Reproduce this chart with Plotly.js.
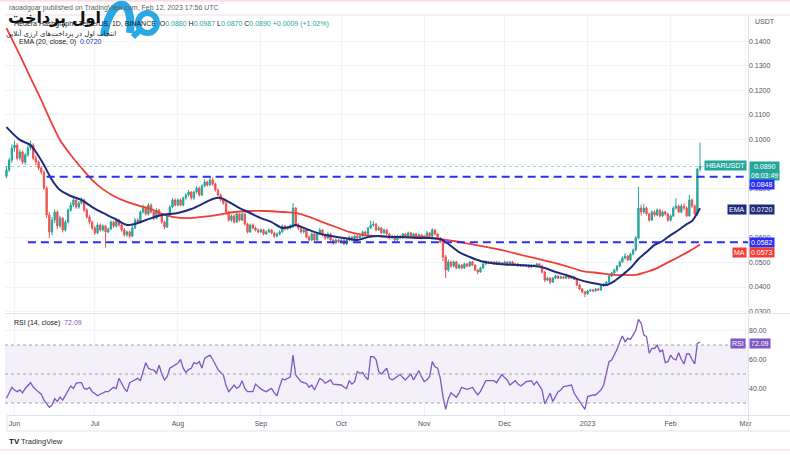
<!DOCTYPE html>
<html><head><meta charset="utf-8">
<script src="https://cdn.plot.ly/plotly-3.0.1.min.js"></script>
<style>html,body{margin:0;padding:0;background:#fff;}#chart{width:790px;height:455px;}</style>
</head><body><div id="chart"></div>
<script>
// ---------- DATA ----------
const startDate = '2022-05-29';            // first daily candle
const firstOpen = 0.0850;
const closes = [
0.0876,0.0916,0.0965,0.0977,0.0924,0.0949,0.0908,0.0937,0.0965,0.0977,
0.0924,0.0908,0.0884,0.0867,0.0802,0.0693,0.0624,0.0672,0.0705,0.0648,
0.0680,0.0632,0.0664,0.0713,0.0733,0.0754,0.0725,0.0741,0.0754,0.0713,
0.0685,0.0664,0.0640,0.0620,0.0652,0.0632,0.0648,0.0624,0.0636,0.0664,
0.0648,0.0672,0.0652,0.0632,0.0612,0.0624,0.0607,0.0640,0.0672,0.0664,
0.0705,0.0721,0.0697,0.0733,0.0705,0.0680,0.0713,0.0693,0.0664,0.0644,
0.0693,0.0725,0.0754,0.0733,0.0754,0.0733,0.0762,0.0774,0.0786,0.0762,
0.0786,0.0802,0.0774,0.0811,0.0827,0.0815,0.0835,0.0819,0.0794,0.0774,
0.0754,0.0741,0.0705,0.0672,0.0689,0.0664,0.0697,0.0672,0.0697,0.0656,
0.0624,0.0652,0.0640,0.0632,0.0624,0.0632,0.0616,0.0624,0.0632,0.0620,
0.0607,0.0616,0.0624,0.0648,0.0636,0.0640,0.0648,0.0721,0.0652,0.0640,
0.0624,0.0632,0.0603,0.0591,0.0616,0.0591,0.0616,0.0632,0.0612,0.0599,
0.0616,0.0591,0.0579,0.0591,0.0583,0.0591,0.0575,0.0591,0.0603,0.0591,
0.0607,0.0599,0.0607,0.0624,0.0616,0.0640,0.0652,0.0656,0.0632,0.0640,
0.0620,0.0632,0.0616,0.0599,0.0607,0.0591,0.0607,0.0599,0.0616,0.0607,
0.0620,0.0607,0.0616,0.0603,0.0612,0.0599,0.0607,0.0620,0.0607,0.0632,
0.0616,0.0599,0.0583,0.0522,0.0469,0.0502,0.0485,0.0502,0.0477,0.0489,
0.0477,0.0494,0.0485,0.0502,0.0489,0.0469,0.0461,0.0477,0.0494,0.0502,
0.0498,0.0502,0.0494,0.0502,0.0498,0.0494,0.0502,0.0494,0.0502,0.0489,
0.0494,0.0485,0.0489,0.0485,0.0489,0.0481,0.0489,0.0485,0.0494,0.0485,
0.0461,0.0428,0.0436,0.0420,0.0436,0.0445,0.0436,0.0441,0.0436,0.0445,
0.0436,0.0441,0.0432,0.0408,0.0392,0.0380,0.0372,0.0384,0.0388,0.0384,
0.0392,0.0388,0.0404,0.0412,0.0420,0.0445,0.0457,0.0469,0.0485,0.0502,
0.0518,0.0526,0.0510,0.0534,0.0550,0.0599,0.0721,0.0705,0.0721,0.0697,
0.0672,0.0705,0.0693,0.0713,0.0689,0.0705,0.0697,0.0672,0.0689,0.0721,
0.0729,0.0705,0.0729,0.0721,0.0689,0.0754,0.0729,0.0697,0.0880,0.0890];
const highs = [
0.0890,0.0925,0.0980,0.0995,0.0985,0.0960,0.0955,0.0945,0.0975,0.0995,
0.0985,0.0935,0.0915,0.0892,0.0875,0.0810,0.0705,0.0685,0.0715,0.0712,
0.0690,0.0685,0.0672,0.0720,0.0745,0.0772,0.0760,0.0750,0.0765,0.0760,
0.0720,0.0692,0.0670,0.0648,0.0660,0.0658,0.0655,0.0652,0.0642,0.0670,
0.0670,0.0680,0.0678,0.0658,0.0640,0.0630,0.0630,0.0648,0.0680,0.0680,
0.0712,0.0735,0.0728,0.0742,0.0740,0.0712,0.0720,0.0718,0.0698,0.0670,
0.0700,0.0732,0.0762,0.0760,0.0760,0.0760,0.0768,0.0782,0.0795,0.0790,
0.0792,0.0810,0.0808,0.0818,0.0838,0.0832,0.0850,0.0845,0.0825,0.0800,
0.0780,0.0760,0.0748,0.0710,0.0695,0.0695,0.0703,0.0700,0.0703,0.0702,
0.0662,0.0658,0.0658,0.0646,0.0638,0.0638,0.0636,0.0630,0.0638,0.0636,
0.0625,0.0622,0.0630,0.0654,0.0652,0.0646,0.0655,0.0741,0.0725,0.0660,
0.0645,0.0640,0.0638,0.0610,0.0622,0.0620,0.0622,0.0640,0.0636,0.0618,
0.0622,0.0620,0.0596,0.0598,0.0596,0.0597,0.0596,0.0597,0.0610,0.0608,
0.0612,0.0612,0.0612,0.0630,0.0628,0.0645,0.0670,0.0668,0.0660,0.0648,
0.0645,0.0638,0.0636,0.0620,0.0612,0.0610,0.0612,0.0610,0.0620,0.0620,
0.0626,0.0624,0.0620,0.0620,0.0618,0.0616,0.0612,0.0628,0.0624,0.0640,
0.0636,0.0620,0.0604,0.0590,0.0530,0.0512,0.0508,0.0508,0.0506,0.0495,
0.0494,0.0498,0.0497,0.0506,0.0506,0.0492,0.0472,0.0482,0.0498,0.0508,
0.0506,0.0506,0.0505,0.0506,0.0505,0.0502,0.0507,0.0505,0.0506,0.0505,
0.0497,0.0497,0.0493,0.0492,0.0493,0.0492,0.0493,0.0492,0.0498,0.0497,
0.0490,0.0466,0.0442,0.0440,0.0440,0.0450,0.0448,0.0446,0.0446,0.0448,
0.0448,0.0445,0.0445,0.0435,0.0412,0.0396,0.0384,0.0388,0.0392,0.0392,
0.0396,0.0395,0.0408,0.0416,0.0425,0.0450,0.0462,0.0475,0.0490,0.0508,
0.0525,0.0538,0.0530,0.0540,0.0556,0.0608,0.0807,0.0735,0.0738,0.0728,
0.0702,0.0712,0.0712,0.0720,0.0718,0.0712,0.0710,0.0702,0.0695,0.0728,
0.0761,0.0735,0.0738,0.0740,0.0728,0.0775,0.0760,0.0735,0.0885,0.0987];
const lows = [
0.0842,0.0868,0.0905,0.0950,0.0915,0.0915,0.0900,0.0898,0.0930,0.0955,
0.0915,0.0895,0.0875,0.0858,0.0795,0.0680,0.0600,0.0610,0.0660,0.0635,
0.0640,0.0622,0.0625,0.0658,0.0705,0.0725,0.0718,0.0718,0.0735,0.0705,
0.0678,0.0655,0.0632,0.0612,0.0615,0.0625,0.0625,0.0560,0.0618,0.0630,
0.0640,0.0642,0.0645,0.0625,0.0605,0.0605,0.0598,0.0602,0.0635,0.0655,
0.0658,0.0698,0.0690,0.0690,0.0700,0.0672,0.0675,0.0688,0.0658,0.0635,
0.0640,0.0688,0.0720,0.0728,0.0728,0.0728,0.0728,0.0755,0.0768,0.0755,
0.0755,0.0780,0.0768,0.0770,0.0805,0.0808,0.0810,0.0812,0.0788,0.0768,
0.0748,0.0735,0.0698,0.0665,0.0665,0.0658,0.0660,0.0666,0.0668,0.0650,
0.0618,0.0620,0.0635,0.0626,0.0618,0.0620,0.0610,0.0612,0.0620,0.0615,
0.0600,0.0602,0.0610,0.0620,0.0630,0.0632,0.0635,0.0640,0.0645,0.0632,
0.0618,0.0618,0.0598,0.0585,0.0586,0.0585,0.0586,0.0610,0.0605,0.0592,
0.0594,0.0586,0.0572,0.0574,0.0578,0.0579,0.0570,0.0570,0.0586,0.0586,
0.0586,0.0594,0.0595,0.0602,0.0610,0.0612,0.0635,0.0645,0.0626,0.0628,
0.0615,0.0615,0.0610,0.0594,0.0595,0.0586,0.0588,0.0594,0.0595,0.0602,
0.0602,0.0602,0.0602,0.0598,0.0600,0.0594,0.0595,0.0603,0.0602,0.0603,
0.0610,0.0594,0.0578,0.0505,0.0437,0.0462,0.0478,0.0480,0.0472,0.0472,
0.0472,0.0474,0.0480,0.0482,0.0485,0.0465,0.0452,0.0458,0.0474,0.0490,
0.0494,0.0495,0.0490,0.0491,0.0494,0.0490,0.0492,0.0490,0.0492,0.0486,
0.0486,0.0482,0.0482,0.0482,0.0482,0.0478,0.0478,0.0481,0.0482,0.0481,
0.0455,0.0420,0.0424,0.0412,0.0416,0.0432,0.0432,0.0433,0.0432,0.0433,
0.0432,0.0432,0.0428,0.0404,0.0388,0.0375,0.0359,0.0368,0.0380,0.0380,
0.0381,0.0384,0.0385,0.0400,0.0408,0.0416,0.0440,0.0452,0.0462,0.0480,
0.0498,0.0512,0.0505,0.0505,0.0528,0.0545,0.0595,0.0690,0.0698,0.0690,
0.0665,0.0668,0.0686,0.0688,0.0683,0.0684,0.0690,0.0665,0.0666,0.0684,
0.0715,0.0700,0.0700,0.0712,0.0684,0.0686,0.0722,0.0692,0.0690,0.0870];
const rsi = [
33.2,37,40.8,39,37.8,39,37,40,42,44,
41,39,37.5,36,32,29.5,27,28.6,33,31,
34,32,35.5,39,41.7,40,43.6,44,44,40,
39.5,40.8,37.8,36.5,35,36,36.7,37.8,37.8,39.5,
40.8,40,47,43.6,40,37.8,44,45,46,47,
45.4,52,57.8,54,53,52.8,50.5,56,50,45.9,
48.2,54,55,56.5,57.4,60,54,51,53,54,
57.8,57,58.5,54,60.8,62,63,60,57,53,
51,49.3,42,37.8,40,42.4,40,41.3,45.4,40,
37.8,38,37.8,43,41,39.7,38.5,37.8,39,40,
37,35,41.3,46.6,46,47,48,63,49.3,47,
44.7,44,43.6,40.8,42.4,39,43,47,45.9,43.6,
44.7,45.9,43,42.8,42.6,42.4,41,40,45.4,43,
44.7,51.6,50.5,51,48,46,62,62,60,51.6,
50,52,54,47,46,47,48.6,49.8,47.5,45.9,
48,50,45.9,49,52.3,48,44.7,46,48.2,58.5,
55,54,47,34.4,25.6,33,37,35.5,34,37,
40.8,40,39.4,40,40.8,38,35.5,38,42,45.4,
45.4,45.4,45.4,44,47,49.8,47.5,45.9,42.4,44,
45.4,43,41.7,43,44.7,45,45.4,42.4,44.7,42,
39,29.3,33,36.7,31,35,37.8,39,41.3,41.6,
42,42.4,36.7,34,31.6,28.5,25.6,34.4,35,35.5,
35.5,37,39,42.4,50,58.5,59.7,63,67,72,
76.2,72.3,74.6,73.9,76.9,80,87.7,85,77,75.7,
64.3,67.7,67.7,70,65.4,66.5,57.8,58.5,63,60.5,
59.7,64.7,60,56.9,63.8,63.8,60,57,71.1,72.09];
// EMA(20) and MA(50) at these candle indexes
const emaIdx  = [0,5,9,11,14,17,20,24,28,32,36,40,45,49,53,58,64,69,73,77,80,83,87,91,95,99,103,106,108,112,116,121,126,131,135,139,143,148,153,158,162,165,169,173,177,181,185,191,197,201,205,209,213,217,221,224,227,230,233,236,239,242,245,248,251,254,256,257,258,259];
const emaVals = [0.1050,0.0998,0.0977,0.0949,0.0896,0.0835,0.0794,0.0770,0.0754,0.0725,0.0701,0.0680,0.0652,0.0660,0.0676,0.0693,0.0701,0.0717,0.0737,0.0758,0.0762,0.0746,0.0721,0.0701,0.0680,0.0664,0.0640,0.0645,0.0652,0.0636,0.0620,0.0607,0.0599,0.0591,0.0603,0.0607,0.0603,0.0603,0.0599,0.0599,0.0595,0.0575,0.0542,0.0522,0.0506,0.0498,0.0493,0.0489,0.0485,0.0477,0.0461,0.0449,0.0433,0.0420,0.0412,0.0408,0.0424,0.0449,0.0477,0.0514,0.0542,0.0571,0.0587,0.0611,0.0632,0.0656,0.0668,0.0683,0.0702,0.0720];
const maIdx  = [0,5,9,13,16,20,24,28,32,36,40,45,50,54,58,62,68,73,79,85,91,97,103,108,113,118,123,128,133,139,145,151,157,162,167,173,179,185,191,197,203,209,215,221,227,231,235,239,243,247,251,255,259];
const maVals = [0.1453,0.1343,0.1250,0.1160,0.1087,0.0998,0.0937,0.0884,0.0835,0.0798,0.0770,0.0746,0.0729,0.0717,0.0697,0.0685,0.0680,0.0685,0.0693,0.0705,0.0709,0.0709,0.0705,0.0701,0.0685,0.0664,0.0644,0.0624,0.0612,0.0607,0.0603,0.0603,0.0603,0.0595,0.0587,0.0575,0.0563,0.0550,0.0534,0.0518,0.0502,0.0485,0.0465,0.0457,0.0449,0.0449,0.0449,0.0461,0.0477,0.0500,0.0522,0.0546,0.0573];
const levels = [0.0848, 0.0582];
const levelStartIdx = [15, 8];
const lastPrice = 0.0890;
const monthTicks  = ['2022-06-01','2022-07-01','2022-08-01','2022-09-01','2022-10-01','2022-11-01','2022-12-01','2023-01-01','2023-02-01','2023-03-01'];
const monthLabels = ['Jun','Jul','Aug','Sep','Oct','Nov','Dec','2023','Feb','Mar'];
const priceTicks = [0.03,0.04,0.05,0.06,0.07,0.08,0.09,0.10,0.11,0.12,0.13,0.14];
const priceTickText = ['0.0300','0.0400','0.0500','0.0600','','0.0800','','0.1000','0.1100','0.1200','0.1300','0.1400'];
const rsiTicks = [40,60,80];
const rsiTickText = ['40.00','60.00','80.00'];
const rsiBand = [30,70];
const rsiDotted = [30,50,70];

// ---------- BUILD ----------
const base = Date.UTC(2022,4,29);
const dates = closes.map((_, i) => new Date(base + i*86400000).toISOString().slice(0,10));
const opens = closes.map((c, i) => i === 0 ? firstOpen : closes[i-1]);

const PX = x => (x - 5) / 743;
const PY = y => (415 - y) / 400;
const P = s => s.replace(/(-?\d+\.?\d*),(-?\d+\.?\d*)/g, (m,a,b) => PX(+a).toFixed(5)+','+PY(+b).toFixed(5));
const xEnd = '2023-03-01 21:36';

const GREEN = '#26a69a', RED = '#ef5350', NAVY = '#1f2b7b', MARED = '#f23e36', BLUE = '#2b2ef5', PURPLE = '#7e57c2';

const traces = [
 {type:'candlestick', x:dates, open:opens, high:highs, low:lows, close:closes, xaxis:'x', yaxis:'y',
  increasing:{line:{color:GREEN,width:1}, fillcolor:GREEN},
  decreasing:{line:{color:RED,width:1}, fillcolor:RED},
  whiskerwidth:0, hoverinfo:'skip'},
 {type:'scatter', mode:'lines', x:maIdx.map(i=>dates[i]), y:maVals, line:{color:MARED,width:1.8,shape:'spline',smoothing:0.8}, yaxis:'y', hoverinfo:'skip'},
 {type:'scatter', mode:'lines', x:emaIdx.map(i=>dates[i]), y:emaVals, line:{color:NAVY,width:2,shape:'spline',smoothing:0.8}, yaxis:'y', hoverinfo:'skip'},
 {type:'scatter', mode:'lines', x:dates, y:rsi, line:{color:PURPLE,width:1.3}, yaxis:'y2', hoverinfo:'skip'}
];

const shapes = [];
shapes.push({type:'rect', xref:'paper', yref:'y2', x0:0, x1:1, y0:rsiBand[0], y1:rsiBand[1], fillcolor:'rgba(126,87,194,0.09)', line:{width:0}, layer:'below'});
rsiDotted.forEach(v => shapes.push({type:'line', xref:'paper', yref:'y2', x0:0, x1:1, y0:v, y1:v, line:{color:'#a0a3ab', width:1, dash:'dot'}}));
levels.forEach((v,k) => shapes.push({type:'line', xref:'x', yref:'y', x0:dates[levelStartIdx[k]], x1:xEnd, y0:v, y1:v, line:{color:BLUE, width:2, dash:'8px,5px'}}));
shapes.push({type:'line', xref:'paper', yref:'y', x0:0, x1:1, y0:lastPrice, y1:lastPrice, line:{color:'rgba(38,166,154,0.45)', width:1, dash:'dot'}});
const fr = '#e0e3eb';
shapes.push({type:'line', xref:'paper', yref:'paper', x0:PX(5), x1:PX(790), y0:PY(313.5), y1:PY(313.5), line:{color:fr,width:1}});
shapes.push({type:'line', xref:'paper', yref:'paper', x0:PX(5), x1:PX(790), y0:PY(15), y1:PY(15), line:{color:fr,width:1}});
shapes.push({type:'line', xref:'paper', yref:'paper', x0:PX(748.5), x1:PX(748.5), y0:PY(15), y1:PY(431), line:{color:fr,width:1}});
shapes.push({type:'line', xref:'paper', yref:'paper', x0:PX(7), x1:PX(790), y0:PY(415.5), y1:PY(415.5), line:{color:fr,width:1}});
shapes.push({type:'line', xref:'paper', yref:'paper', x0:PX(7), x1:PX(790), y0:PY(431), y1:PY(431), line:{color:fr,width:1}});
shapes.push({type:'line', xref:'paper', yref:'paper', x0:PX(7), x1:PX(7), y0:PY(415.5), y1:PY(431), line:{color:fr,width:1}});
shapes.push({type:'line', xref:'paper', yref:'paper', x0:PX(0), x1:PX(790), y0:PY(0.8), y1:PY(0.8), line:{color:'#f7d3de',width:1.2}});
shapes.push({type:'line', xref:'paper', yref:'paper', x0:PX(0), x1:PX(790), y0:PY(450), y1:PY(450), line:{color:'#f7d3de',width:1.2}});
// logo (blue mark)
shapes.push({type:'path', xref:'paper', yref:'paper', path:P('M104,36 C106,22 112,7 120,5 C128,3 132,16 130,33'), line:{color:'#2aa8e2', width:8}, fillcolor:'rgba(0,0,0,0)'});
shapes.push({type:'circle', xref:'paper', yref:'paper', x0:PX(138), x1:PX(157), y0:PY(33), y1:PY(13), line:{color:'#2aa8e2', width:6}});
shapes.push({type:'path', xref:'paper', yref:'paper', path:P('M140,30 L133,37'), line:{color:'#2aa8e2', width:6}});

const ann = [];
const A = (x, y, text, o) => ann.push(Object.assign({xref:'paper', yref:'paper', x:PX(x), y:PY(y), text, showarrow:false, xanchor:'left', yanchor:'middle', font:{size:7, color:'#50535e'}}, o||{}));
A(7, 8, 'raoadgoar published on TradingView.com, Feb 12, 2023 17:56 UTC', {font:{size:7, color:'#5d606b'}});
const g = v => '<span style="color:'+GREEN+'">'+v+'</span>';
A(12, 24, 'Hedera Hashgraph / TetherUS, 1D, BINANCE  O'+g('0.0880')+' H'+g('0.0987')+' L'+g('0.0870')+' C'+g('0.0890')+' '+g('+0.0009 (+1.02%)'), {font:{size:7, color:'#131722'}});
A(17, 42, 'EMA (20, close, 0)  <span style="color:#2a3aa6">0.0720</span>', {font:{size:7, color:'#131722'}});
A(12, 323, 'RSI (14, close)  <span style="color:'+PURPLE+'">72.09</span>', {font:{size:7, color:'#131722'}});
// Persian logo text
A(6, 18, '<b>اول پرداخت</b>', {font:{family:'DejaVu Sans', size:16, color:'#111'}});
A(4, 33, 'انتخاب اول در پرداخت‌های ارزی آنلاین', {font:{family:'DejaVu Sans', size:7, color:'#222'}});
A(753, 22, 'USDT', {font:{size:7, color:'#50535e'}});
A(7, 442, '<b>TV</b>', {font:{size:8, color:'#131722'}});
A(19, 442, 'TradingView', {font:{size:7.5, color:'#2a2e39'}});
const box = (x, y, text, bg, anchor) => A(x, y, text, {xanchor:anchor, bgcolor:bg, borderpad:1, font:{size:7, color:'#fff'}});
box(747, 166, 'HBARUSDT', GREEN, 'right');
box(749, 171, '0.0890<br>06:03:49', GREEN, 'left');
box(749, 184.5, '0.0848', BLUE, 'left');
box(747, 209, 'EMA', NAVY, 'right');
box(749, 209, '0.0720', NAVY, 'left');
box(749, 242.5, '0.0582', BLUE, 'left');
box(747, 252, 'MA', MARED, 'right');
box(749, 252, '0.0573', MARED, 'left');
box(746, 343, 'RSI', PURPLE, 'right');
box(749, 343, '72.09', PURPLE, 'left');

const layout = {
 width:790, height:455,
 margin:{l:5, r:42, t:15, b:40},
 paper_bgcolor:'#fff', plot_bgcolor:'#fff',
 showlegend:false,
 font:{family:'Liberation Sans, Arial, sans-serif', size:7, color:'#50535e'},
 xaxis:{type:'date', range:['2022-05-28 10:48', xEnd], tickvals:monthTicks, ticktext:monthLabels,
        showgrid:true, gridcolor:'#f1f3f8', ticks:'', zeroline:false, showline:false, ticklabelstandoff:3,
        rangeslider:{visible:false}, anchor:'y2', tickfont:{size:7, color:'#50535e'}, fixedrange:true},
 yaxis:{domain:[PY(313), 1], range:[0.02943, 0.1506], side:'right', tickvals:priceTicks,
        ticktext:priceTickText, showgrid:true, gridcolor:'#f1f3f8', zeroline:false, ticks:'', tickfont:{size:7, color:'#50535e'}},
 yaxis2:{domain:[0, PY(314)], range:[21.7, 91.4], side:'right', tickvals:rsiTicks, ticktext:rsiTickText,
        showgrid:true, gridcolor:'#f1f3f8', zeroline:false, ticks:'', tickfont:{size:7, color:'#50535e'}},
 shapes, annotations: ann
};
Plotly.newPlot('chart', traces, layout, {displayModeBar:false, staticPlot:true});
</script>
</body></html>
